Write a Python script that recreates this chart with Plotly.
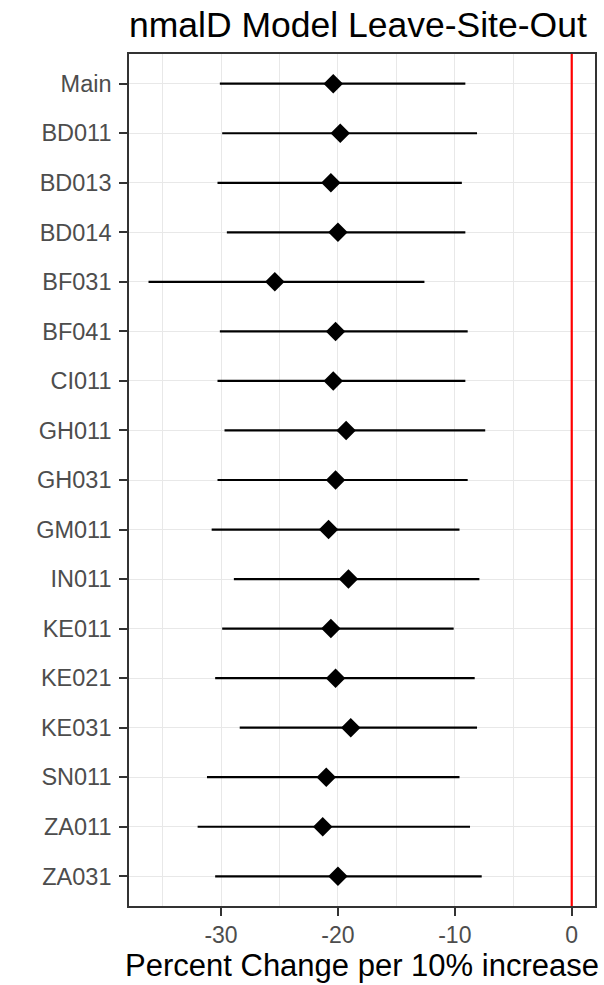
import plotly.graph_objects as go

sites = ["Main", "BD011", "BD013", "BD014", "BF031", "BF041", "CI011", "GH011",
         "GH031", "GM011", "IN011", "KE011", "KE021", "KE031", "SN011", "ZA011", "ZA031"]
estimate = [-20.4, -19.8, -20.6, -20.0, -25.4, -20.2, -20.4, -19.3,
            -20.2, -20.8, -19.1, -20.6, -20.2, -18.9, -21.0, -21.3, -20.0]
lower = [-30.1, -29.9, -30.3, -29.5, -36.2, -30.1, -30.3, -29.7,
         -30.3, -30.8, -28.9, -29.9, -30.5, -28.4, -31.2, -32.0, -30.5]
upper = [-9.1, -8.1, -9.4, -9.1, -12.6, -8.9, -9.1, -7.4,
         -8.9, -9.6, -7.9, -10.1, -8.3, -8.1, -9.6, -8.7, -7.7]

title_text = "nmalD Model Leave-Site-Out"
x_title = "Percent Change per 10% increase"
x_ticks = [-30, -20, -10, 0]

font_family = "Liberation Sans, Arial, sans-serif"

fig = go.Figure()
fig.add_trace(go.Scatter(
    x=estimate, y=sites, mode="markers",
    marker=dict(symbol="diamond", size=15, color="black"),
    error_x=dict(type="data", symmetric=False,
                 array=[u - e for u, e in zip(upper, estimate)],
                 arrayminus=[e - l for e, l in zip(estimate, lower)],
                 color="black", thickness=2.2, width=0),
    showlegend=False,
))

fig.add_shape(type="line", xref="x", yref="paper", x0=0, x1=0, y0=0, y1=1,
              line=dict(color="#FF0000", width=2.2), layer="above")

fig.update_layout(
    width=604, height=985,
    margin=dict(l=129, r=7, t=54, b=79),
    paper_bgcolor="white", plot_bgcolor="white",
    font=dict(family=font_family),
    title=dict(text=title_text, font=dict(size=35.5, color="black", family=font_family),
               xref="paper", x=0, xanchor="left",
               yref="container", y=1 - 25 / 985, yanchor="middle"),
)

fig.update_xaxes(
    range=[-37.87, 1.99],
    tickvals=x_ticks, ticktext=[str(v) for v in x_ticks],
    tickfont=dict(size=23, color="#4D4D4D"),
    ticks="outside", ticklen=8, tickwidth=1.5, tickcolor="#333333",
    showgrid=True, gridcolor="#E8E8E8", gridwidth=1.4,
    minor=dict(dtick=5, tick0=-35, showgrid=True, gridcolor="#E8E8E8", gridwidth=1.4),
    showline=True, mirror=True, linecolor="#333333", linewidth=1.6,
    zeroline=False,
    title=dict(text=x_title, font=dict(size=31, color="black"), standoff=6),
)
fig.update_yaxes(
    type="category", categoryorder="array", categoryarray=sites,
    range=[len(sites) - 0.4, -0.6],
    tickfont=dict(size=23.5, color="#4D4D4D"),
    ticks="outside", ticklen=8, tickwidth=1.5, tickcolor="#333333",
    ticklabelstandoff=3,
    showgrid=True, gridcolor="#E8E8E8", gridwidth=1.4,
    showline=True, mirror=True, linecolor="#333333", linewidth=1.6,
    zeroline=False,
)

fig.write_html("out.html")
